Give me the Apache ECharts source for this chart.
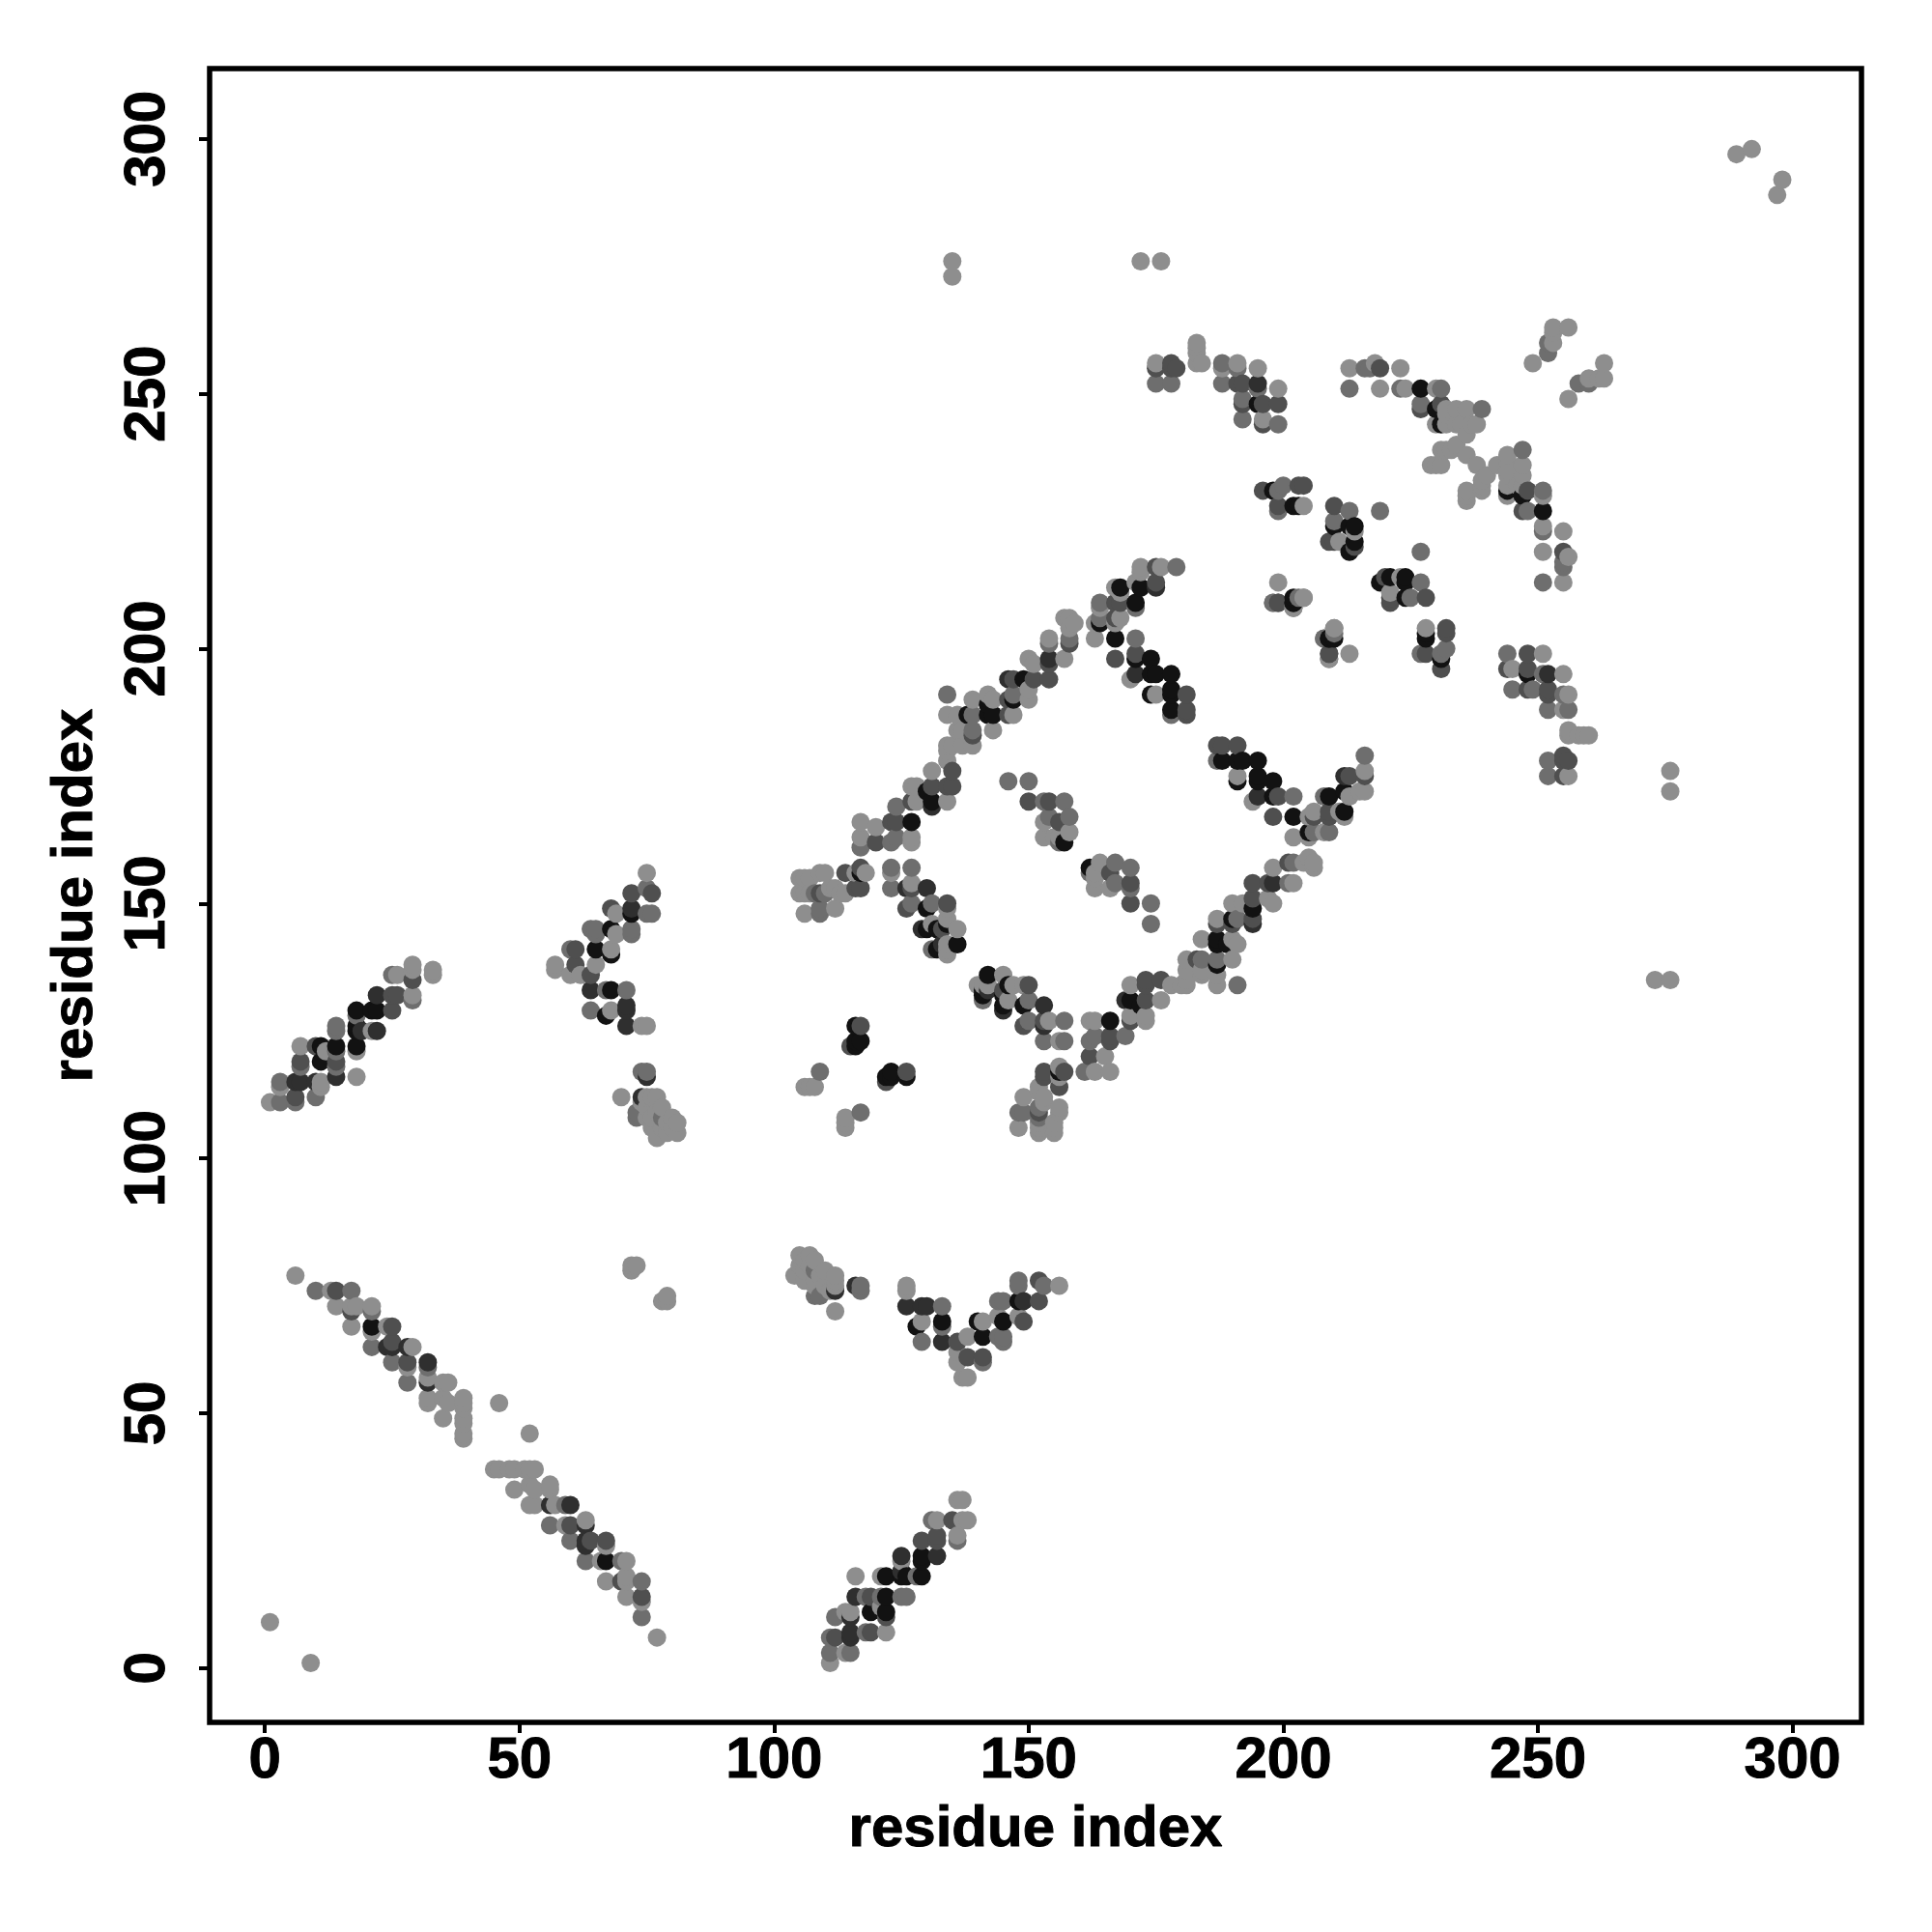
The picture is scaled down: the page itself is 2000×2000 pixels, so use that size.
<!DOCTYPE html>
<html><head><meta charset="utf-8">
<style>html,body{margin:0;padding:0;background:#fff}#c{width:2000px;height:2000px}</style>
<script src="https://cdn.jsdelivr.net/npm/echarts@6/dist/echarts.min.js"></script>
</head><body><div id="c"></div>
<script>
// each contact: [residue i, residue j, shade index]; the map is symmetric, so (j,i) is a contact too
const shades = ['#121212','#2f2f2f','#4f4f4f','#6e6e6e','#8e8e8e'];
const tickValues = [0,50,100,150,200,250,300];
const axisTitle = 'residue index';
const clusterA = [[1,111,4],[3,111,3],[6,111,3],[6,112,2],[10,112,3],[3,114,4],[3,115,3],[6,115,1],[7,115,1],[10,115,1],[11,115,4],[11,114,4],[14,116,1],[18,116,4],[7,118,3],[7,119,2],[11,119,0],[14,118,3],[14,119,2],[7,122,4],[10,122,2],[11,122,0],[12,121,4],[14,121,3],[14,122,0],[14,125,3],[14,126,3],[18,121,4],[18,122,0],[18,125,0],[18,126,0],[19,125,1],[21,125,4],[22,125,1],[18,128,3],[18,129,0],[21,129,0],[22,129,0],[25,129,2],[22,132,1],[25,132,2],[26,132,2],[29,131,3],[29,132,4],[25,136,3],[26,136,4],[29,135,2],[29,137,4],[29,138,4],[33,136,4],[33,137,4]];
const clusterB = [[75,156,4],[72,152,2],[75,153,3],[76,152,2],[68,149,2],[69,148,4],[72,148,0],[72,149,1],[75,148,3],[76,148,3],[68,145,0],[69,144,4],[72,144,3],[72,145,3],[64,145,3],[65,144,3],[65,145,3],[65,141,0],[68,141,4],[68,140,0],[60,141,3],[61,141,2],[61,138,2],[65,138,4],[57,138,4],[57,137,4],[60,136,4],[62,136,4],[64,136,2],[64,133,1],[67,133,3],[68,133,0],[71,133,3],[64,129,3],[67,128,0],[68,129,4],[71,129,1],[71,130,1],[71,126,1],[74,126,4],[75,126,4]];
const clusterC = [[74,117,3],[75,117,3],[75,116,1],[70,112,4],[74,112,1],[73,109,3],[73,108,3],[74,111,4],[75,112,4],[76,112,4],[77,112,4],[78,110,4],[77,109,4],[78,108,3],[76,108,4],[75,108,4],[79,107,4],[80,108,4],[81,107,4],[81,105,4],[78,106,4],[79,105,4],[77,104,4],[80,106,4],[76,106,4],[75,110,4]];
const antiDiagonal = [[6,77,4],[10,74,3],[13,74,4],[14,74,2],[17,74,3],[14,71,4],[17,70,2],[17,71,4],[18,71,4],[21,70,3],[21,71,4],[17,67,4],[21,66,4],[21,67,0],[24,67,4],[25,67,2],[21,63,3],[24,63,1],[25,63,1],[25,64,2],[25,60,3],[28,63,1],[29,63,4],[28,60,2],[28,59,4],[32,59,3],[32,60,1],[32,56,1],[32,57,4],[28,56,3],[32,52,4],[32,53,4],[35,56,4],[36,56,4],[35,53,4],[36,52,4],[35,49,4],[39,53,4],[39,52,4],[39,51,4],[39,49,4],[39,48,4],[39,46,4],[39,45,4],[46,52,4],[72,78,4],[72,79,4],[73,79,4],[1,9,4]];
const clusterE = [[106,114,4],[107,114,4],[108,114,4],[109,117,3],[115,122,2],[116,122,0],[116,123,0],[117,123,0],[116,126,0],[117,126,2]];
const clusterF = [[105,155,4],[106,155,4],[107,155,4],[105,152,4],[106,152,4],[107,152,4],[109,156,4],[110,156,4],[108,152,3],[109,152,2],[110,152,3],[111,153,4],[112,153,4],[113,152,4],[114,152,4],[106,148,4],[109,149,3],[109,148,3],[112,149,4],[114,156,2],[116,156,4],[117,157,2],[117,156,0],[118,156,4],[116,153,2],[117,153,2]];
const clusterG = [[123,157,3],[123,156,4],[127,157,3],[123,153,3],[126,153,1],[127,153,2],[127,154,4],[130,153,1],[126,149,2],[127,150,3],[130,149,0],[131,150,3],[134,150,2],[134,149,4],[134,147,4],[131,146,4],[130,145,0],[129,145,1],[133,145,2],[132,145,0],[134,146,0],[136,145,4],[136,142,0],[134,142,4],[134,140,4],[133,142,1],[133,141,0],[134,141,4],[132,141,0],[131,141,3]];
const bandH = [[179,216,3],[176,216,4],[175,216,2],[172,216,4],[172,215,4],[175,213,2],[175,212,1],[172,212,0],[171,213,4],[168,212,0],[167,212,4],[171,209,0],[171,208,3],[168,209,2],[168,211,4],[168,206,4],[167,205,4],[167,209,2],[167,206,2],[164,209,3],[164,208,4],[164,205,0],[163,205,4],[164,206,3],[163,202,4],[159,205,4],[158,206,4],[157,206,4],[158,204,4],[158,201,2],[158,202,3],[154,202,4],[154,201,3],[157,198,4],[154,198,1],[154,197,2],[154,194,2],[150,198,4],[151,197,4],[151,194,2],[149,194,0],[147,194,2],[146,194,1],[150,190,4],[150,192,4],[147,191,3],[147,190,0],[146,190,2],[147,187,4],[146,187,2],[142,191,4],[143,190,4],[142,189,0],[139,190,4],[143,187,0],[142,187,0],[139,187,3],[138,187,0],[143,184,4],[139,184,3],[139,183,2],[134,191,3],[134,187,4],[136,187,4],[136,184,4],[137,184,4],[139,181,4],[134,181,4],[135,181,4],[137,181,4],[134,180,4],[135,176,2],[135,173,2],[134,173,2],[134,178,4],[131,176,4],[131,173,2],[130,172,0],[134,170,4],[131,169,1],[131,170,0],[127,173,4],[128,173,4],[124,169,3],[127,170,2],[128,170,4],[127,166,0],[124,166,2],[123,166,2],[120,165,4],[117,166,4],[117,163,4],[117,161,3],[120,162,2],[124,163,3],[123,162,3],[127,162,4],[127,163,4]];
const bandJ = [[167,202,0],[171,202,3],[167,198,2],[171,199,2],[171,198,0],[174,198,0],[171,195,1],[170,194,4],[174,195,0],[175,195,0],[178,195,0],[175,191,4],[174,191,0],[178,192,0],[178,191,0],[181,191,2],[178,188,0],[178,187,3],[181,188,2],[181,187,2]];
const clusterK = [[146,174,3],[150,174,3],[150,170,2],[153,170,3],[154,170,2],[157,170,3],[154,167,3],[153,166,4],[158,167,3],[156,166,2],[153,163,4],[155,163,4],[157,162,0],[158,164,4],[156,162,3],[156,163,4]];
const clusterL = [[199,244,3],[199,248,2],[199,251,4],[196,244,2],[196,245,4],[196,248,2],[195,248,0],[195,251,3],[195,252,1],[195,255,4],[192,245,3],[192,248,2],[192,249,3],[192,252,2],[191,252,2],[191,255,3],[191,256,4],[188,252,3],[188,255,4],[188,256,3],[184,256,4],[183,256,4],[183,258,4],[183,259,4],[183,260,4],[178,252,3],[179,255,2],[178,255,2],[178,256,2],[175,252,3],[175,255,2],[175,256,4]];
const clusterM = [[213,255,4],[216,255,3],[217,255,3],[218,256,4],[219,255,2],[223,255,4],[213,251,3],[219,251,4],[223,251,3],[224,251,4],[227,251,0],[230,251,4],[231,251,3],[227,247,2],[227,248,3],[230,247,0],[231,248,2],[239,247,3],[230,244,4],[231,244,0],[232,247,4],[234,247,4],[236,247,4],[232,246,4],[232,244,4],[234,244,4],[235,244,4],[237,244,4],[238,244,4],[234,240,4],[233,239,4],[231,239,4],[231,236,4],[230,236,4],[229,236,4],[232,239,4],[236,242,4],[236,238,4]];
const clusterP = [[196,231,2],[198,231,0],[199,231,3],[200,232,3],[203,232,2],[204,232,2],[199,228,2],[199,227,3],[202,228,0],[203,228,0],[204,228,4],[210,228,2],[213,227,3],[219,227,3],[210,225,3],[210,224,0],[213,224,0],[214,224,0],[214,223,4],[210,221,2],[209,221,2],[211,221,4],[214,221,0],[214,220,2],[213,219,0],[199,213,4],[198,209,4],[199,209,2],[202,209,0],[202,208,3],[203,210,3],[204,210,4],[209,202,0],[210,204,4],[210,202,0],[208,202,4],[209,199,2],[209,198,3]];
const clusterN = [[249,256,4],[253,263,4],[256,263,4],[253,262,4],[252,260,3],[253,260,4],[252,258,3]];
const farContacts = [[135,276,4],[135,273,4],[172,276,4],[176,276,4],[289,297,4],[292,298,4]];

const contacts = [].concat(clusterA,clusterB,clusterC,antiDiagonal,clusterE,clusterF,clusterG,bandH,bandJ,clusterK,clusterL,clusterM,clusterP,clusterN,farContacts);
const symmetric = contacts.concat(contacts.map(c=>[c[1],c[0],c[2]]));
symmetric.sort((a,b)=>a[0]-b[0]||a[1]-b[1]);

const labelFont = {fontFamily:'Liberation Sans',fontWeight:'bold',fontSize:60,color:'#000',textBorderColor:'#000',textBorderWidth:1};
function axis(extra){
  return Object.assign({
    type:'value',
    name:axisTitle,nameLocation:'middle',
    nameTextStyle:labelFont,
    splitLine:{show:false},
    axisLine:{show:false,onZero:false},
    axisTick:{show:true,length:11,inside:false,lineStyle:{color:'#000',width:4},customValues:tickValues},
  },extra);
}
const chart = echarts.init(document.getElementById('c'),null,{renderer:'canvas'});
chart.setOption({
  animation:false,
  backgroundColor:'#fff',
  grid:{left:217,top:71,width:1710,height:1712,show:true,borderColor:'#000',borderWidth:5.5,backgroundColor:'transparent'},
  xAxis:axis({min:-10.85,max:313.55,nameGap:81,axisLabel:Object.assign({margin:10,customValues:tickValues,hideOverlap:false},labelFont)}),
  yAxis:axis({min:-10.65,max:313.8,nameGap:109,nameRotate:90,axisLabel:Object.assign({margin:64,rotate:90,customValues:tickValues,hideOverlap:false,verticalAlign:'middle',align:'center'},labelFont)}),
  series:[{type:'scatter',silent:true,symbol:'circle',symbolSize:19,
    data:symmetric.map(c=>({value:[c[0],c[1]],itemStyle:{color:shades[c[2]],opacity:1}}))}]
});
</script></body></html>
